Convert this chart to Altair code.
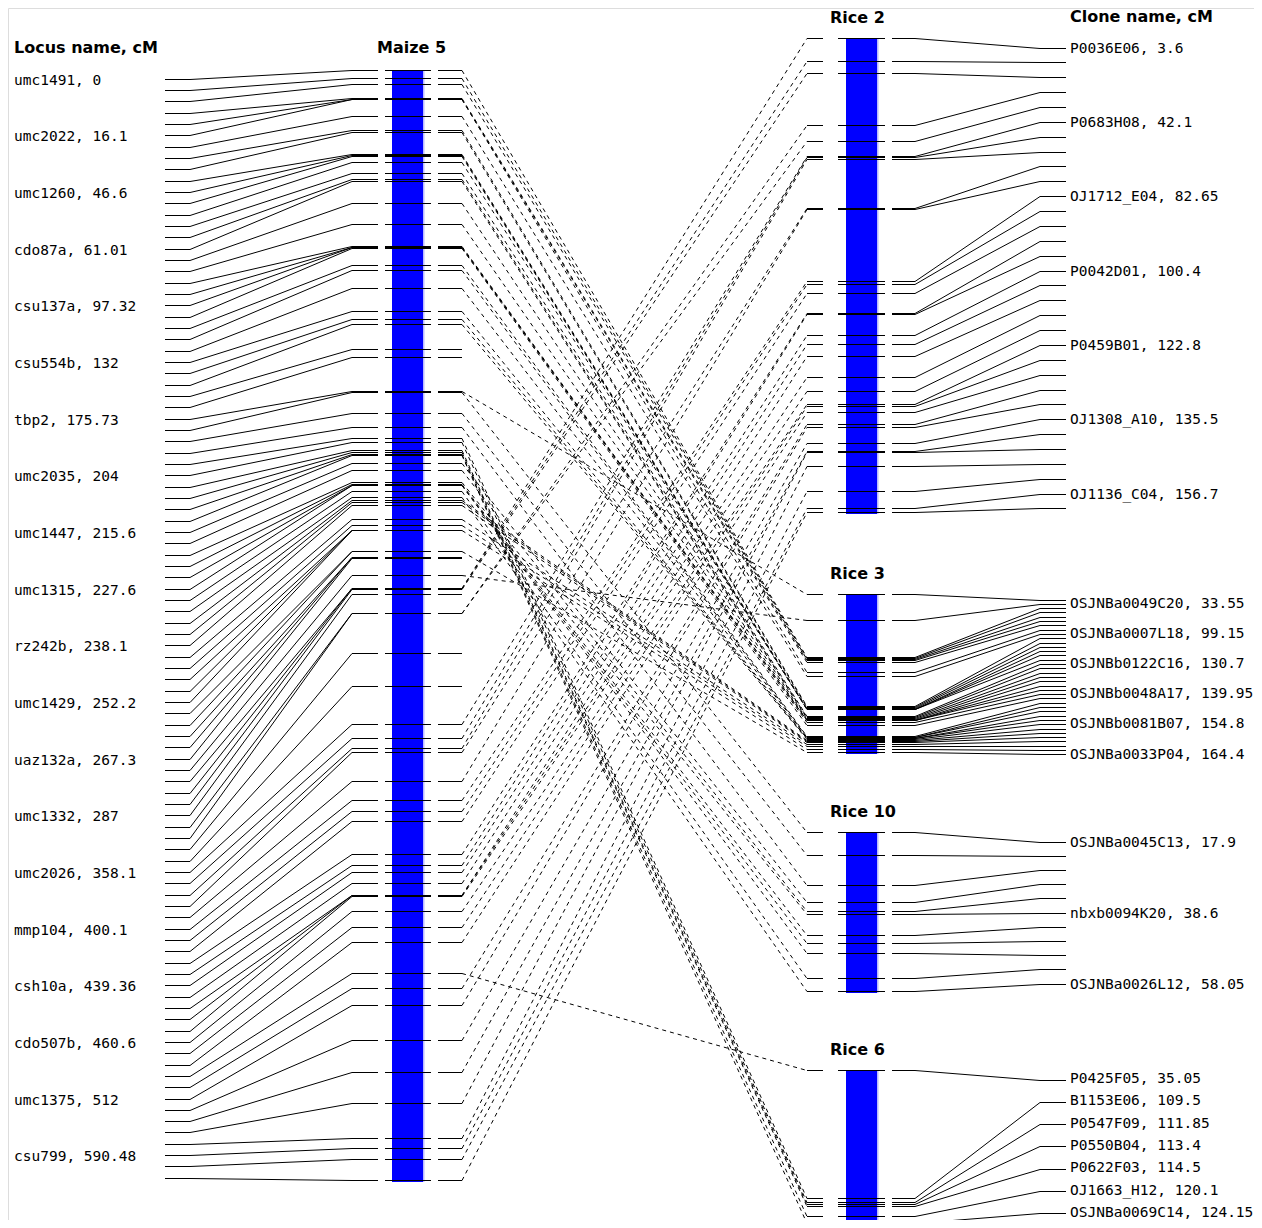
import altair as alt
import pandas as pd

# ---------------- data ----------------
maize_label_names = ["umc1491", "umc2022", "umc1260", "cdo87a", "csu137a", "csu554b", "tbp2",
                     "umc2035", "umc1447", "umc1315", "rz242b", "umc1429", "uaz132a", "umc1332",
                     "umc2026", "mmp104", "csh10a", "cdo507b", "umc1375", "csu799"]
maize_label_cm = [0, 16.1, 46.6, 61.01, 97.32, 132, 175.73, 204, 215.6, 227.6, 238.1, 252.2,
                  267.3, 287, 358.1, 400.1, 439.36, 460.6, 512, 590.48]
maize_cm = [0, 4.4, 7.7, 15.4, 15.9, 16.1, 25.2, 32.9, 34.0, 46.0,
            46.6, 47.6, 50.4, 56.4, 60.2, 61.01, 72.8, 84.3, 96.8, 96.9,
            97.32, 97.5, 106.8, 109.5, 119.4, 132, 136.4, 139.1, 152.8, 157.2,
            175.73, 176.3, 187.8, 195.5, 201.5, 204, 208.1, 209.2, 210.3, 210.8,
            215.6, 219.1, 225.6, 226.9, 227.3, 227.6, 230.6, 233.8, 235.5, 236.6,
            238.1, 245.9, 249.2, 251.9, 252.0, 252.2, 263.4, 263.6, 266.7, 267.0,
            267.3, 276.6, 283.7, 283.8, 284.2, 287, 297.4, 297.6, 319.3, 337.3,
            358.1, 365.8, 371.3, 373.5, 389.4, 400.1, 405.8, 411.3, 429.4, 435.4,
            439.36, 445.2, 451.8, 451.9, 452.4, 460.6, 469.3, 477.5, 494.5, 503.0,
            512, 531.2, 548.7, 565.7, 584.9, 590.48, 596.4, 607.9]

rice2_label_names = ["P0036E06", "P0683H08", "OJ1712_E04", "P0042D01", "P0459B01", "OJ1308_A10", "OJ1136_C04"]
rice2_label_cm = [3.6, 42.1, 82.65, 100.4, 122.8, 135.5, 156.7]
rice2_cm = [3.6, 11.4, 15.0, 32.2, 37.1, 42.1, 42.3, 43.0, 58.9, 59.5,
            82.65, 83.6, 86.8, 93.3, 93.4, 100.4, 103.4, 107.3, 114.1, 118.4,
            122.8, 123.4, 125.4, 129.3, 130.3, 135.5, 138.1, 138.2, 143.0, 151.1,
            156.7, 158.0]

rice3_label_names = ["OSJNBa0049C20", "OSJNBa0007L18", "OSJNBb0122C16", "OSJNBb0048A17", "OSJNBb0081B07", "OSJNBa0033P04"]
rice3_label_cm = [33.55, 99.15, 130.7, 139.95, 154.8, 164.4]
rice3_cm = [33.55, 55.95, 86.8, 87.7, 88.5, 89.3, 90.6, 99.15, 102.9, 127.9,
            128.8, 129.6, 130.2, 130.5, 130.7, 136.3, 137.2, 138.0, 138.8, 139.3,
            139.7, 139.95, 141.4, 143.45, 153.1, 153.9, 154.35, 154.6, 154.8, 155.6,
            156.4, 157.3, 158.1, 159.4, 161.65, 164.4, 166.5]

rice10_label_names = ["OSJNBa0045C13", "nbxb0094K20", "OSJNBa0026L12"]
rice10_label_cm = [17.9, 38.6, 58.05]
rice10_cm = [17.9, 23.9, 31.2, 35.7, 37.8, 38.6, 43.8, 45.9, 48.5, 54.6, 58.05]

rice6_label_names = ["P0425F05", "B1153E06", "P0547F09", "P0550B04", "P0622F03", "OJ1663_H12", "OSJNBa0069C14"]
rice6_label_cm = [35.05, 109.5, 111.85, 113.4, 114.5, 120.1, 124.15]
rice6_cm = [35.05, 109.5, 111.85, 113.4, 114.5, 120.1, 124.15]

# homology links: for each rice marker (in order), the index of the linked maize marker
rice2_from_maize = [62, 63, 64, 66, 67, 70, 71, 72, 73, 74, 75, 76, 77, 78, 79, 80,
                    81, 82, 83, 84, 85, 86, 87, 89, 90, 91, 92, 93, 94, 95, 96, 97]
rice3_from_maize = ([30, 61] + list(range(0, 28)) + [48, 49, 50, 51, 52, 53, 56])
rice10_from_maize = [31, 32, 33, 40, 41, 42, 43, 44, 45, 46, 47]
rice6_from_maize = [88, 34, 35, 36, 37, 38, 39]

# ---------------- layout ----------------
chroms = {
    "Rice 2": dict(cm=rice2_cm, names=rice2_label_names, lcm=rice2_label_cm, src=rice2_from_maize,
                   top=38, cm0=3.6, k=3.076, slot0=48, step=14.87, every=5, ldy=0.5),
    "Rice 3": dict(cm=rice3_cm, names=rice3_label_names, lcm=rice3_label_cm, src=rice3_from_maize,
                   top=594, cm0=33.55, k=1.192, slot0=600, step=4.3, every=7, ldy=4),
    "Rice 10": dict(cm=rice10_cm, names=rice10_label_names, lcm=rice10_label_cm, src=rice10_from_maize,
                    top=832, cm0=17.9, k=3.985, slot0=842, step=14.2, every=5, ldy=0.5),
    "Rice 6": dict(cm=rice6_cm, names=rice6_label_names, lcm=rice6_label_cm, src=rice6_from_maize,
                   top=1070, cm0=35.05, k=1.72, slot0=1080, step=22.3, every=1, ldy=-1.0),
}
MZ_TOP, MZ_K = 70, 1.827


def crisp(v):
    return int(v) + 0.5


segs, dashes, bars, texts = [], [], [], []

# maize
mz_y = [crisp(MZ_TOP + c * MZ_K) for c in maize_cm]
for i, ym in enumerate(mz_y):
    ys = crisp(79.3 + 11.33 * i)
    segs += [dict(x=165, y=ys, x2=190, y2=ys), dict(x=190, y=ys, x2=352, y2=ym),
             dict(x=352, y=ym, x2=378, y2=ym), dict(x=385, y=ym, x2=431, y2=ym),
             dict(x=438, y=ym, x2=462, y2=ym)]
for j, (nm, c) in enumerate(zip(maize_label_names, maize_label_cm)):
    texts.append(dict(x=14, y=79.3 + 11.33 * 5 * j + 1.5, t=f"{nm}, {c:g}", w="normal"))
bars.append(dict(x=392, x2=423, y=mz_y[0] - 0.5, y2=mz_y[-1] + 1.5, c="#0000ff"))
bars.append(dict(x=423, x2=424.5, y=mz_y[0] - 0.5, y2=mz_y[-1] + 1.5, c="#b8b8ff"))
texts.append(dict(x=14, y=48, t="Locus name, cM", w="bold"))
texts.append(dict(x=377, y=48, t="Maize 5", w="bold"))
texts.append(dict(x=1070, y=17, t="Clone name, cM", w="bold"))

for name, ch in chroms.items():
    ys_list = [crisp(ch["top"] + (c - ch["cm0"]) * ch["k"]) for c in ch["cm"]]
    for j, yr in enumerate(ys_list):
        ys = crisp(ch["slot0"] + ch["step"] * j)
        segs += [dict(x=807, y=yr, x2=823, y2=yr), dict(x=838, y=yr, x2=885, y2=yr),
                 dict(x=892, y=yr, x2=915, y2=yr), dict(x=915, y=yr, x2=1040, y2=ys),
                 dict(x=1040, y=ys, x2=1066, y2=ys)]
    for j, (nm, c) in enumerate(zip(ch["names"], ch["lcm"])):
        ys = ch["slot0"] + ch["step"] * ch["every"] * j
        texts.append(dict(x=1070, y=ys + ch["ldy"], t=f"{nm}, {c:g}", w="normal"))
    bars.append(dict(x=846, x2=877, y=ys_list[0] - 0.5, y2=ys_list[-1] + 1.5, c="#0000ff"))
    bars.append(dict(x=877, x2=878.5, y=ys_list[0] - 0.5, y2=ys_list[-1] + 1.5, c="#b8b8ff"))
    texts.append(dict(x=830, y=ys_list[0] - 21, t=name, w="bold"))
    for r, m in enumerate(ch["src"]):
        dashes.append(dict(x=462, y=mz_y[m], x2=807, y2=ys_list[r]))

segs_df = pd.DataFrame(segs)
dash_df = pd.DataFrame(dashes)
bars_df = pd.DataFrame(bars)
texts_df = pd.DataFrame(texts)

W, H = 1246, 1212
xs = alt.Scale(domain=[8, 8 + W], nice=False, zero=False)
ysc = alt.Scale(domain=[8, 8 + H], nice=False, zero=False, reverse=True)
X = lambda f: alt.X(f, type="quantitative", scale=xs, axis=None)
Y = lambda f: alt.Y(f, type="quantitative", scale=ysc, axis=None)

bar_layer = alt.Chart(bars_df).mark_rect(clip=True).encode(
    x=X("x"), x2="x2", y=Y("y"), y2="y2", color=alt.Color("c:N", scale=None))
seg_layer = alt.Chart(segs_df).mark_rule(color="black", strokeWidth=1, clip=True).encode(
    x=X("x"), x2="x2", y=Y("y"), y2="y2")
dash_layer = alt.Chart(dash_df).mark_rule(color="black", strokeWidth=1, strokeDash=[4, 4], clip=True).encode(
    x=X("x"), x2="x2", y=Y("y"), y2="y2")
txt_n = alt.Chart(texts_df[texts_df.w == "normal"]).mark_text(
    align="left", baseline="middle", font="DejaVu Sans Mono", fontSize=14.5, color="black").encode(
    x=X("x"), y=Y("y"), text="t:N")
txt_b = alt.Chart(texts_df[texts_df.w == "bold"]).mark_text(
    align="left", baseline="middle", font="DejaVu Sans", fontSize=16, fontWeight="bold", color="black").encode(
    x=X("x"), y=Y("y"), text="t:N")

chart = alt.layer(bar_layer, seg_layer, dash_layer, txt_n, txt_b).properties(
    width=W, height=H, padding=0, autosize=alt.AutoSizeParams(type="none")
).configure_view(strokeWidth=0).configure(background="white")

chart.save("out.html", embed_options={"renderer": "svg", "actions": False})
